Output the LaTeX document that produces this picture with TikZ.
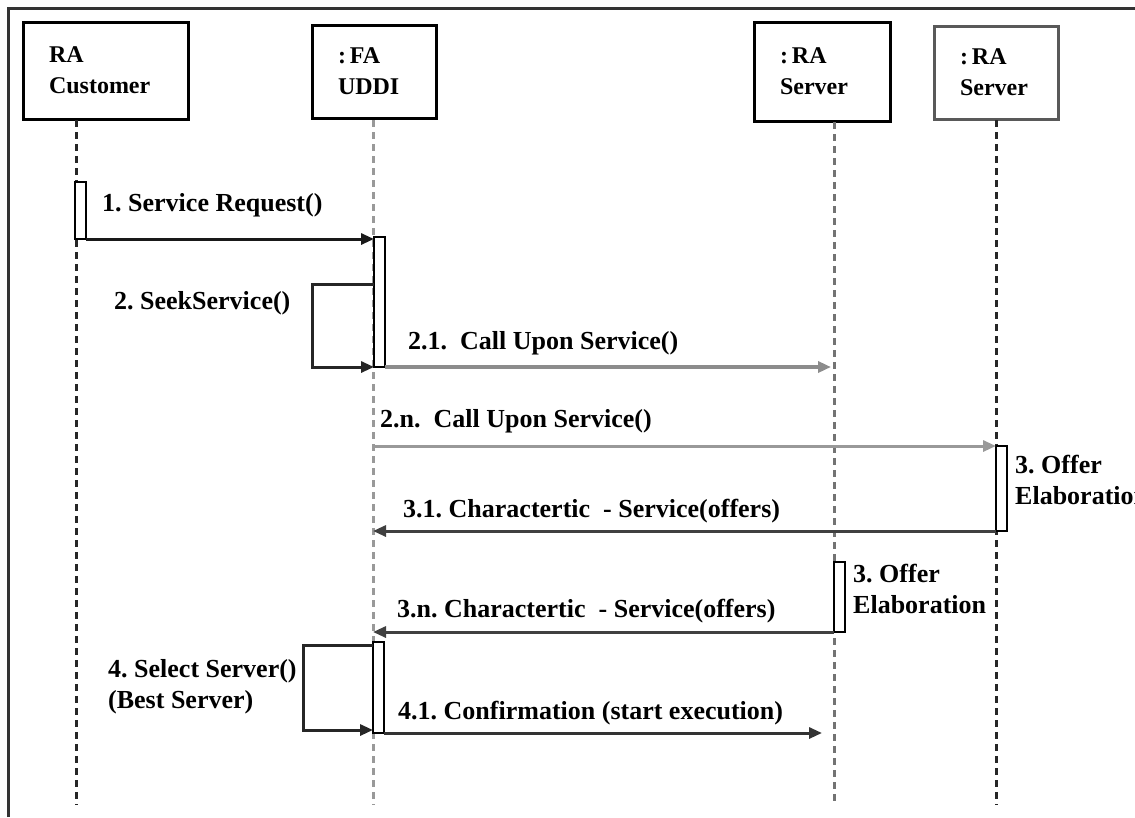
\documentclass[tikz,border=0pt]{standalone}
\usepackage{fontspec}
\setmainfont{Liberation Serif}
\usetikzlibrary{arrows.meta}
\frenchspacing
\begin{document}
\begin{tikzpicture}[x=1pt,y=-1pt]
\tikzset{
  msgfont/.style={font=\fontsize{26}{31}\selectfont\bfseries},
  headbox/.style={draw=black, line width=3pt, fill=white, inner xsep=26pt, inner ysep=0pt,
    outer sep=0pt, align=left, anchor=north west, font=\fontsize{24}{31}\selectfont\bfseries},
  lifeline/.style={line width=3pt, dash pattern=on 7pt off 5pt},
  act/.style={draw=black, line width=2.5pt, fill=white, anchor=north west, inner sep=0pt,
    outer sep=0pt, minimum width=11pt},
  msg/.style={line width=3pt, -{Triangle[length=13pt,width=11pt]}},
  selfcall/.style={line width=3pt, black!85, -{Triangle[length=13pt,width=11pt]}},
  lbl/.style={msgfont, inner sep=0pt, anchor=base west},
  lbltwo/.style={msgfont, inner sep=0pt, anchor=north west, align=left},
}
\useasboundingbox (0,0) rectangle (1135,817);
\fill[white] (0,0) rectangle (1135,817);

% outer frame (left and top edges)
\draw[line width=3pt, black!80] (8,817) -- (8,8) -- (1135,8);

% object heads
\node[headbox, text width=113pt, minimum width=165pt, minimum height=97pt] (cust) at (23,22) {RA\\Customer};
\node[headbox, text width=72pt, minimum width=124pt, minimum height=93pt] (uddi) at (312,25) {:\,FA\\UDDI};
\node[headbox, text width=84pt, minimum width=136pt, minimum height=99pt] (srvA) at (754,22) {:\,RA\\Server};
\node[headbox, draw=black!65, text width=72pt, minimum width=124pt, minimum height=93pt] (srvB) at (934,26) {:\,RA\\Server};

% lifelines
\coordinate (custTop) at (76,120);   \coordinate (custBot) at (76,805);
\coordinate (uddiTop) at (373,120);  \coordinate (uddiBot) at (373,805);
\coordinate (srvATop) at (834,122);  \coordinate (srvABot) at (834,805);
\coordinate (srvBTop) at (996,120);  \coordinate (srvBBot) at (996,805);
\draw[lifeline, black!85] (custTop) -- (custBot);
\draw[lifeline, black!40] (uddiTop) -- (uddiBot);
\draw[lifeline, black!55] (srvATop) -- (srvABot);
\draw[lifeline, black!85] (srvBTop) -- (srvBBot);

% activation bars
\node[act, minimum height=57pt] (actCust) at (75,182) {};
\node[act, minimum height=130pt] (actU1) at (374,237) {};
\node[act, minimum height=85pt] (actB) at (996,446) {};
\node[act, minimum height=70pt] (actA) at (834,562) {};
\node[act, minimum height=91pt] (actU2) at (373,642) {};

% 1. service request
\draw[msg, black!90] (actCust.south east) -- (actU1.north west |- actCust.south east);
\node[lbl] (m1) at (102,211) {1. Service Request()};

% 2. seek service (self call)
\coordinate (s2a) at (actU1.west |- 0,284);
\coordinate (s2b) at (312,284);
\coordinate (s2c) at (312,367);
\draw[selfcall] (s2a) -- (s2b) -- (s2c) -- (actU1.south west);
\node[lbl] (m2) at (114,309) {2. SeekService()};

% 2.1 call upon service
\draw[msg, black!45, line width=3.5pt] (actU1.south east) -- ([xshift=-3pt]srvATop |- actU1.south east);
\node[lbl] (m21) at (408,349) {2.1.\ \ Call Upon Service()};

% 2.n call upon service
\draw[msg, black!40] (uddiTop |- actB.north west) -- (actB.north west);
\node[lbl] (m2n) at (380,427) {2.n.\ \ Call Upon Service()};

% 3. offer elaboration (second server)
\node[lbltwo] (o3b) at (1015,455) {3. Offer\\Elaboration};

% 3.1 characteristic service
\draw[msg, black!75] (actB.south west) -- (uddiTop |- actB.south west);
\node[lbl] (m31) at (403,517) {3.1. Charactertic\ \ - Service(offers)};

% 3. offer elaboration (first server)
\node[lbltwo] (o3a) at (853,564) {3. Offer\\Elaboration};

% 3.n characteristic service
\draw[msg, black!75] (actA.south west) -- (uddiTop |- actA.south west);
\node[lbl] (m3n) at (397,617) {3.n. Charactertic\ \ - Service(offers)};

% 4. select server (self call)
\coordinate (s4a) at (actU2.west |- 0,645);
\coordinate (s4b) at (303,645);
\coordinate (s4c) at (303,730);
\draw[selfcall] (s4a) -- (s4b) -- (s4c) -- (actU2.west |- s4c);
\node[lbltwo] (m4) at (108,659) {4. Select Server()\\(Best Server)};

% 4.1 confirmation
\draw[msg, black!80] (actU2.south east) -- ([xshift=-12pt]srvATop |- actU2.south east);
\node[lbl] (m41) at (398,719) {4.1. Confirmation (start execution)};
\end{tikzpicture}
\end{document}
